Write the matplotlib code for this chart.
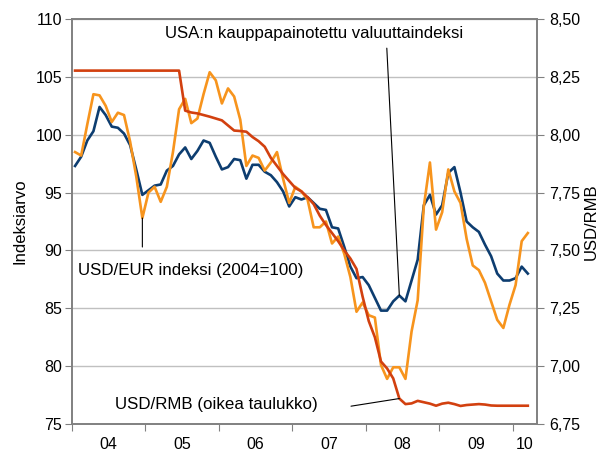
import matplotlib
matplotlib.use('Agg')
import matplotlib.pyplot as plt
import numpy as np

plt.rcParams['font.family'] = ['Liberation Sans', 'DejaVu Sans']

# monthly data, Jan 2004 - Mar 2010
years = ['04', '05', '06', '07', '08', '09', '10']

# USA:n kauppapainotettu valuuttaindeksi (left axis)
usd_twi = [97.3, 98.1, 99.5, 100.3, 102.4, 101.7, 100.7, 100.6, 100.1, 99.1, 97.0, 94.8,
           95.2, 95.6, 95.7, 96.9, 97.3, 98.3, 98.9, 97.9, 98.6, 99.5, 99.3, 98.1,
           97.0, 97.2, 97.9, 97.8, 96.2, 97.4, 97.4, 96.8, 96.5, 95.9, 95.1, 93.8,
           94.6, 94.4, 94.6, 94.1, 93.6, 93.5, 92.0, 91.9, 90.3, 88.6, 87.6, 87.7,
           87.0, 85.9, 84.8, 84.8, 85.6, 86.1, 85.6, 87.4, 89.2, 93.9, 94.8, 93.1,
           93.9, 96.7, 97.2, 95.0, 92.5, 92.0, 91.6, 90.5, 89.5, 88.0, 87.4, 87.4,
           87.6, 88.6, 88.0]

# USD/EUR indeksi (2004=100) (left axis)
usd_eur = [98.5, 98.2, 100.9, 103.5, 103.4, 102.5, 101.1, 101.9, 101.7, 99.4, 96.4, 92.8,
           95.0, 95.5, 94.2, 95.5, 98.5, 102.2, 103.1, 101.0, 101.4, 103.5, 105.4, 104.7,
           102.7, 104.0, 103.3, 101.3, 97.3, 98.2, 98.0, 96.9, 97.6, 98.5, 96.2, 94.1,
           95.5, 95.1, 94.4, 92.0, 92.0, 92.5, 90.6, 91.2, 89.7, 87.7, 84.7, 85.5,
           84.4, 84.2, 80.1, 78.9, 79.9, 79.9, 78.9, 83.0, 85.7, 93.8, 97.6, 91.8,
           93.3, 97.0, 95.1, 94.1, 91.0, 88.7, 88.3, 87.2, 85.6, 84.0, 83.3, 85.3,
           87.0, 90.8, 91.5]

# USD/RMB (right axis)
usd_rmb = [8.277] * 18 + [
    8.104, 8.096, 8.092, 8.085, 8.078, 8.070,
    8.062, 8.040, 8.018, 8.016, 8.013, 7.990, 7.972, 7.948, 7.900, 7.865, 7.830, 7.800,
    7.770, 7.755, 7.730, 7.700, 7.650, 7.610, 7.575, 7.540, 7.500, 7.465, 7.420, 7.300,
    7.195, 7.125, 7.020, 6.990, 6.947, 6.860, 6.836, 6.839, 6.850, 6.844, 6.838, 6.829,
    6.838, 6.842, 6.836, 6.828, 6.832, 6.834, 6.836, 6.834, 6.830, 6.829, 6.829, 6.829,
    6.829, 6.829, 6.829]

x = np.arange(len(usd_twi))

c_blue = '#0d3d70'
c_orange = '#f7941d'
c_red = '#d2400f'
c_grid = '#c0c0c0'
c_axis = '#808080'

fig = plt.figure(figsize=(6.05, 4.53), dpi=100)
ax = fig.add_axes([72 / 605, 29 / 453, 465 / 605, 405 / 453])
ax2 = ax.twinx()

ax.plot(x, usd_twi, color=c_blue, lw=1.9, zorder=3)
ax.plot(x, usd_eur, color=c_orange, lw=1.9, zorder=3)
ax2.plot(x, usd_rmb, color=c_red, lw=1.9, zorder=2)

ax.set_xlim(-0.5, 75.5)
ax.set_ylim(75, 110)
ax.set_yticks(np.arange(75, 111, 5))
ax2.set_ylim(6.75, 8.50)
rmb_ticks = np.arange(6.75, 8.51, 0.25)
ax2.set_yticks(rmb_ticks)
ax2.set_yticklabels([('%.2f' % t).replace('.', ',') for t in rmb_ticks])

ax.yaxis.grid(True, color=c_grid, lw=1)
ax.set_axisbelow(True)

# year boundaries as ticks, labels centred between them
ax.set_xticks([-0.5 + 12 * k for k in range(7)])
ax.set_xticklabels([])
ax.set_xticks([5.5 + 12 * k for k in range(6)] + [73.5], minor=True)
ax.set_xticklabels(years, minor=True)
ax.tick_params(axis='x', which='major', length=5, color=c_axis)
ax.tick_params(axis='x', which='minor', length=0, labelsize=11.5, pad=9.5)
ax.tick_params(axis='y', length=5, color=c_axis, labelsize=11.5, pad=2)
ax2.tick_params(axis='y', length=5, color=c_axis, labelsize=11.5, pad=4)

for a in (ax, ax2):
    for s in a.spines.values():
        s.set_color(c_axis)
        s.set_linewidth(1.2)

ax.set_ylabel('Indeksiarvo', fontsize=12, labelpad=6)
ax2.set_ylabel('USD/RMB', fontsize=12, labelpad=2)

# annotations
ax.text(0.52, 0.965, 'USA:n kauppapainotettu valuuttaindeksi', transform=ax.transAxes,
        ha='center', va='center', fontsize=12.1)
ax.annotate('', xy=(x[53], usd_twi[53]), xytext=(0.677, 0.928),
            textcoords='axes fraction',
            arrowprops=dict(arrowstyle='-', color='black', lw=0.8, shrinkA=0, shrinkB=0))

ax.text(0.013, 0.378, 'USD/EUR indeksi (2004=100)', transform=ax.transAxes,
        ha='left', va='center', fontsize=12.2)
ax.annotate('', xy=(x[11], usd_eur[11]), xytext=(x[11], 0.437),
            textcoords=('data', 'axes fraction'),
            arrowprops=dict(arrowstyle='-', color='black', lw=0.8, shrinkA=0, shrinkB=0))

ax.text(0.092, 0.047, 'USD/RMB (oikea taulukko)', transform=ax.transAxes,
        ha='left', va='center', fontsize=12.2)
ax2.annotate('', xy=(x[53], usd_rmb[53]), xytext=(0.600, 0.044),
             textcoords='axes fraction',
             arrowprops=dict(arrowstyle='-', color='black', lw=0.8, shrinkA=0, shrinkB=0))

fig.savefig('out.png', dpi=100)
